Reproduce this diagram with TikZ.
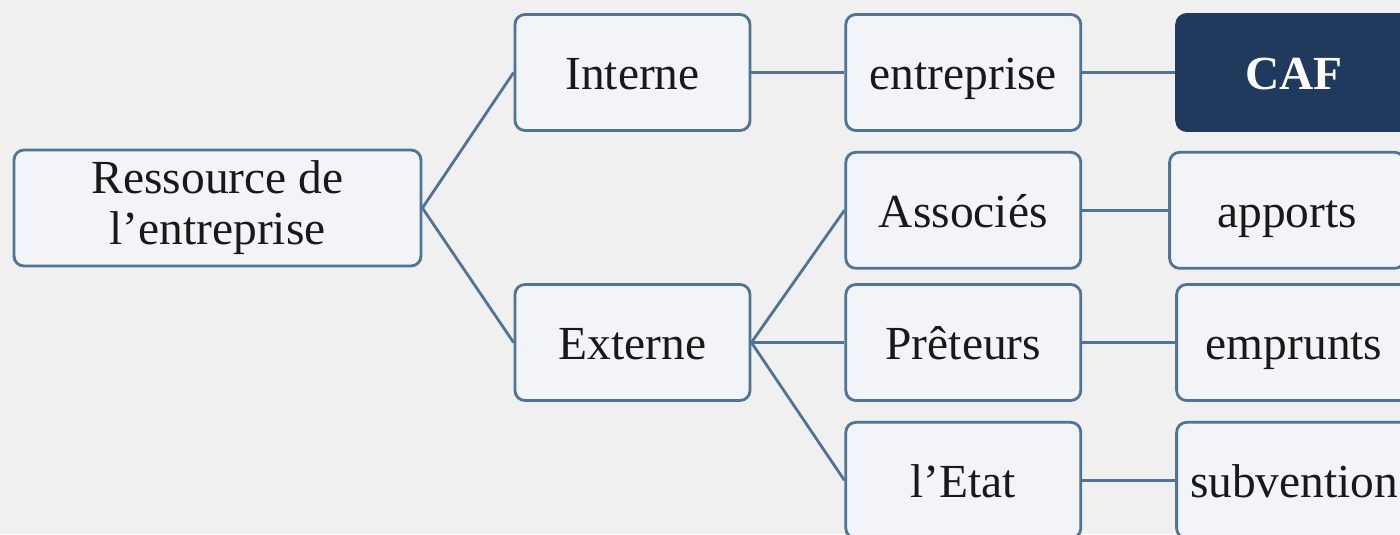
\documentclass[tikz,border=0pt]{standalone}
\usepackage{fontspec}
\setmainfont{Liberation Serif}
\usetikzlibrary{positioning}
\definecolor{boxline}{RGB}{80,115,150}
\definecolor{boxfill}{RGB}{242,244,247}
\definecolor{bgfill}{RGB}{240,240,240}
\definecolor{cafblue}{RGB}{31,58,92}
\tikzset{
  fin box/.style={
    draw=boxline,
    line width=1.6pt,
    fill=boxfill,
    rounded corners=0.2cm,
    minimum width={#1cm},
    minimum height={2.32cm},
    align=center,
    text=black!90,
    font=\fontsize{27}{29}\selectfont,
  },
  fin box/.default=4.7,
  one line/.style={
    text height=19pt,
    text depth=0pt,
  },
  dark box/.style={
    fin box,
    one line,
    draw=cafblue,
    fill=cafblue,
    text=white,
    font=\fontsize{27}{29}\selectfont\bfseries,
  },
  link/.style={
    draw=boxline,
    line width=1.6pt,
  }
}

\begin{document}
\begin{tikzpicture}[node distance=0.38cm and 1.86cm]
        \useasboundingbox (0,0) rectangle (28,-10.68);
        \fill [bgfill] (0,0) rectangle (28,-10.68);
        \clip (0,0) rectangle (28,-10.68);

        \node [fin box=8.14] (res) at (4.35,-4.16) {Ressource de\\l’entreprise};
        \node [fin box, one line] (interne) at (12.65,-1.45) {Interne};
        \node [fin box, one line] (externe) at (12.65,-6.85) {Externe};

        \node [fin box, one line, right=of interne] (entreprise) {entreprise};
        \node [fin box, one line, below=of entreprise] (associes) {Associés};
        \node [fin box, one line, right=of externe] (preteurs) {Prêteurs};
        \node [fin box, one line, below=of preteurs] (etat) {l’Etat};

        \node [dark box, right=of entreprise] (caf) {CAF};
        \node [fin box, one line, right=1.72cm of associes] (apports) {apports};
        \node [fin box, one line, right=of preteurs] (emprunts) {emprunts};
        \node [fin box, one line, right=of etat] (subvention) {subvention};

        \draw [link] (res.east) -- (interne.west);
        \draw [link] (res.east) -- (externe.west);
        \draw [link] (interne) -- (entreprise);
        \draw [link] (entreprise) -- (caf);
        \draw [link] (externe.east) -- (associes.west);
        \draw [link] (externe) -- (preteurs);
        \draw [link] (externe.east) -- (etat.west);
        \draw [link] (associes) -- (apports);
        \draw [link] (preteurs) -- (emprunts);
        \draw [link] (etat) -- (subvention);
      \end{tikzpicture}
\end{document}
